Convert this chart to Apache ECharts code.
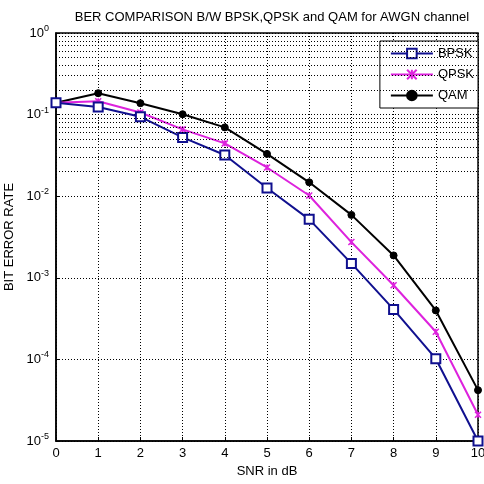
<!DOCTYPE html>
<html><head><meta charset="utf-8">
<script src="https://cdn.jsdelivr.net/npm/echarts@6/dist/echarts.min.js"></script>
<style>html,body{margin:0;padding:0;background:#fff}#c{width:484px;height:484px}</style>
</head><body><div id="c"></div>
<script>
const snr = [0,1,2,3,4,5,6,7,8,9,10];
const bpsk = [0.14,0.124,0.094,0.0525,0.032,0.0126,0.0052,0.0015,4.1e-4,1.02e-4,1e-5];
const qpsk = [0.14,0.146,0.106,0.066,0.0444,0.0225,0.0102,0.00274,8.1e-4,2.18e-4,2.1e-5];
const qam  = [0.14,0.183,0.138,0.101,0.0697,0.033,0.0148,0.0059,0.00188,3.98e-4,4.2e-5];
const yMin = 1e-5, yMax = 1;

const minorVals = [];
for (let d = -5; d <= -1; d++) for (let m = 2; m <= 9; m++) minorVals.push(m * Math.pow(10, d));

const F = 'Liberation Sans, Arial, sans-serif';
const chart = echarts.init(document.getElementById('c'));
const dotted = {color:'#000', width:1, type:[1,2]};
const pair = (arr) => snr.map((x,i)=>[x,arr[i]]);
chart.setOption({
  animation:false,
  backgroundColor:'#fff',
  title:{text:'BER COMPARISON B/W BPSK,QPSK and QAM for AWGN channel', left:267, top:6, textAlign:'center',
    textStyle:{fontFamily:F, fontSize:13, fontWeight:'normal', color:'#000'}},
  grid:{left:56, right:6, top:33, bottom:43, show:true, borderColor:'#000', borderWidth:1.5,
    backgroundColor:'transparent', containLabel:false, outerBoundsMode:'none'},
  legend:{right:6, top:41, orient:'vertical', backgroundColor:'#fff', borderColor:'#000', borderWidth:1,
    padding:[6,4,6,10], itemGap:8, itemWidth:42, itemHeight:12,
    textStyle:{fontFamily:F, fontSize:13, color:'#000'},
    data:['BPSK','QPSK','QAM']},
  xAxis:{type:'value', min:0, max:10, interval:1,
    name:'SNR in dB', nameLocation:'middle', nameGap:24, nameTextStyle:{fontFamily:F, fontSize:13, color:'#000'},
    axisLine:{lineStyle:{color:'#000', width:1.5}}, axisTick:{inside:true, length:4, lineStyle:{color:'#000'}},
    axisLabel:{fontFamily:F, fontSize:13, color:'#000', margin:6},
    splitLine:{show:true, lineStyle:dotted}},
  yAxis:{type:'log', logBase:10, min:yMin, max:yMax,
    name:'BIT ERROR RATE', nameLocation:'middle', nameGap:36, nameTextStyle:{fontFamily:F, fontSize:13, color:'#000'},
    axisLine:{show:true, lineStyle:{color:'#000', width:1.5}}, axisTick:{inside:true, length:4, lineStyle:{color:'#000'}},
    axisLabel:{fontFamily:F, color:'#000', margin:7,
      formatter:v=>'{b|10}{s|'+Math.round(Math.log10(v))+'}',
      rich:{b:{fontFamily:F, fontSize:13, color:'#000'}, s:{fontFamily:F, fontSize:9, color:'#000', padding:[0,0,9,0]}}},
    splitLine:{show:true, lineStyle:dotted}},
  series:[
    {name:'BPSK', type:'line', data:pair(bpsk), symbol:'rect', symbolSize:9,
      lineStyle:{color:'#10108f', width:2}, itemStyle:{color:'#fff', borderColor:'#10108f', borderWidth:2},
      markLine:{silent:true, symbol:'none', label:{show:false}, lineStyle:dotted, animation:false,
        data:minorVals.map(v=>({yAxis:v}))}, z:4},
    {name:'QPSK', type:'line', data:pair(qpsk), symbol:'path://M0,0L10,10M10,0L0,10M5,0L5,10', symbolSize:6,
      lineStyle:{color:'#dd22dd', width:2}, itemStyle:{color:'#dd22dd', borderColor:'#dd22dd', borderWidth:1.5}, z:3},
    {name:'QAM', type:'line', data:pair(qam), symbol:'circle', symbolSize:7,
      lineStyle:{color:'#000', width:2}, itemStyle:{color:'#000', borderColor:'#000', borderWidth:1}, z:2}
  ]
});
</script></body></html>
